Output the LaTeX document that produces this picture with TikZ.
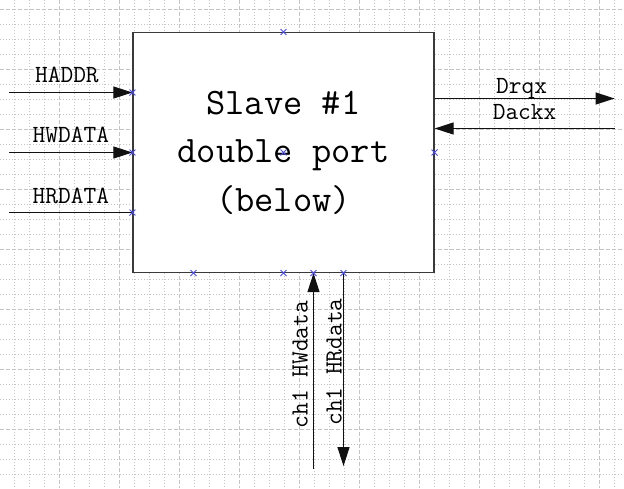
\documentclass[tikz,border=0pt]{standalone}
\usepackage{xcolor}
\usepackage{tikz}
\usetikzlibrary{positioning,arrows.meta,calc,shapes.misc}
\definecolor{ink}{HTML}{111111}
\definecolor{boxedge}{HTML}{3a3a3a}
\definecolor{gridgray}{HTML}{c4c4c4}
\definecolor{portblue}{HTML}{4a4aff}

\begin{document}
\begin{tikzpicture}[x=1pt,y=-1pt,
  font=\fontsize{24.7}{26}\selectfont\ttfamily,
  minorgrid/.style={draw=gridgray,line width=0.7pt,dash pattern=on 1pt off 2pt},
  majorgrid/.style={draw=gridgray,line width=0.8pt,dash pattern=on 4pt off 2pt},
  slave/.style={draw=boxedge,line width=1.2pt,fill=white,minimum width=301pt,minimum height=240pt,align=center,
    font=\fontsize{37.4}{48.5}\selectfont\ttfamily},
  sig/.style={draw=ink,line width=1.1pt},
  arr/.style={sig,-{Triangle[length=19pt,width=12pt]}},
  lbl/.style={inner sep=0pt,anchor=base},
  portx/.style={cross out,draw=portblue,line width=0.9pt,minimum size=5pt,inner sep=0pt}]
  \useasboundingbox (0,0) rectangle (624,488);
  % grid
  \foreach \gx in {14,29,...,614} \draw[minorgrid] (\gx,0) -- (\gx,488);
  \foreach \gy in {9,24,...,484} \draw[minorgrid] (0,\gy) -- (624,\gy);
  \foreach \gx in {59,119,...,599} \draw[majorgrid] (\gx,0) -- (\gx,488);
  \foreach \gy in {9,69,...,429} \draw[majorgrid] (0,\gy) -- (624,\gy);

  \node[slave] (slave) at (283.5,152.5) {Slave \#1\\double port\\(below)};

  % ports
  \coordinate (haddrp) at ($(slave.west)+(0,-60)$);
  \coordinate (hwdatap) at (slave.west);
  \coordinate (hrdatap) at ($(slave.west)+(0,60)$);
  \coordinate (drqxp) at ($(slave.east)+(0,-54)$);
  \coordinate (dackxp) at ($(slave.east)+(0,-24)$);
  \coordinate (sw1p) at ($(slave.south)+(-90,0)$);
  \coordinate (hwdp) at ($(slave.south)+(30,0)$);
  \coordinate (hrdp) at ($(slave.south)+(60,0)$);
  \coordinate[left=123pt of haddrp] (haddrin);
  \coordinate[left=123pt of hwdatap] (hwdatain);
  \coordinate[left=123pt of hrdatap] (hrdataout);
  \coordinate[right=180pt of drqxp] (drqxout);
  \coordinate[right=180pt of dackxp] (dackxin);
  \coordinate[below=196pt of hwdp] (hwdin);
  \coordinate[below=193pt of hrdp] (hrdout);

  \draw[arr] (haddrin) -- node[lbl,yshift=10pt,xshift=-4pt]{HADDR} (haddrp);
  \draw[arr] (hwdatain) -- node[lbl,yshift=10pt]{HWDATA} (hwdatap);
  \draw[sig] (hrdataout) -- node[lbl,yshift=9pt]{HRDATA} (hrdatap);
  \draw[arr] (drqxp) -- node[lbl,yshift=5pt,xshift=-3pt]{Drqx} (drqxout);
  \draw[arr] (dackxin) -- node[lbl,yshift=9pt]{Dackx} (dackxp);
  \draw[arr] (hwdin) -- (hwdp);
  \draw[arr] (hrdp) -- (hrdout);
  \node[lbl,rotate=90] (hwdlbl) at ($(hwdp)+(-6,91.5)$) {ch1 HWdata};
  \node[lbl,rotate=90] (hrdlbl) at ($(hrdp)+(-2,89)$) {ch1 HRdata};

  % connection marks
  \foreach \p in {haddrp,hwdatap,hrdatap,slave.north,slave.center,slave.east,sw1p,slave.south,hwdp,hrdp}
    \node[portx] at (\p) {};
\end{tikzpicture}
\end{document}
